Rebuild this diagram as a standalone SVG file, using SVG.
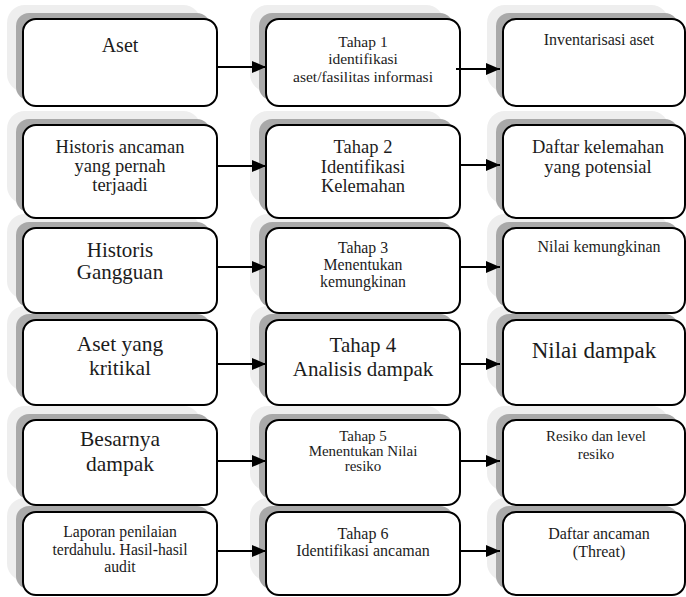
<svg xmlns="http://www.w3.org/2000/svg" width="686" height="597" viewBox="0 0 686 597">
<style>
.halo{fill:#eeeeee}
.shd{fill:#a9a9a9}
.box{fill:#ffffff;stroke:#000000;stroke-width:2}
.t{font-family:"Liberation Serif","Times New Roman",serif;fill:#1c1c1c;text-anchor:middle}
.c{stroke:#000000;stroke-width:2;fill:none;marker-end:url(#ah)}
</style>
<defs>
<marker id="ah" markerUnits="userSpaceOnUse" markerWidth="14" markerHeight="12" refX="14" refY="6" orient="auto">
<path d="M0,0 L14,6 L0,12 Z" fill="#000000"/>
</marker>
</defs>

<!-- Row 6 -->
<g id="laporan">
<rect class="halo" x="7" y="498" width="194" height="83" rx="18"/>
<rect class="shd" x="16" y="506" width="194" height="83" rx="13"/>
<rect class="box" x="23" y="512" width="194" height="83" rx="13"/>
<text class="t" font-size="15.7" x="120" y="537">Laporan penilaian</text>
<text class="t" font-size="15.7" x="120" y="555">terdahulu. Hasil-hasil</text>
<text class="t" font-size="15.7" x="120" y="572">audit</text>
</g>
<g id="tahap6">
<rect class="halo" x="250" y="498" width="194" height="83" rx="18"/>
<rect class="shd" x="259" y="506" width="194" height="83" rx="13"/>
<rect class="box" x="266" y="512" width="194" height="83" rx="13"/>
<text class="t" font-size="16" x="363" y="539">Tahap 6</text>
<text class="t" font-size="16" x="363" y="556">Identifikasi ancaman</text>
</g>
<g id="daftar-ancaman">
<rect class="halo" x="487" y="498" width="182" height="83" rx="18"/>
<rect class="shd" x="496" y="506" width="182" height="83" rx="13"/>
<rect class="box" x="503" y="512" width="182" height="83" rx="13"/>
<text class="t" font-size="16" x="599" y="539">Daftar ancaman</text>
<text class="t" font-size="16" x="599" y="557">(Threat)</text>
</g>

<!-- Row 5 -->
<g id="besarnya">
<rect class="halo" x="7" y="406" width="194" height="85" rx="18"/>
<rect class="shd" x="16" y="414" width="194" height="85" rx="13"/>
<rect class="box" x="23" y="420" width="194" height="85" rx="13"/>
<text class="t" font-size="21.5" x="120" y="446">Besarnya</text>
<text class="t" font-size="21.5" x="120" y="471">dampak</text>
</g>
<g id="tahap5">
<rect class="halo" x="250" y="406" width="194" height="85" rx="18"/>
<rect class="shd" x="259" y="414" width="194" height="85" rx="13"/>
<rect class="box" x="266" y="420" width="194" height="85" rx="13"/>
<text class="t" font-size="15" x="363" y="441">Tahap 5</text>
<text class="t" font-size="15" x="363" y="456">Menentukan Nilai</text>
<text class="t" font-size="15" x="363" y="471">resiko</text>
</g>
<g id="resiko">
<rect class="halo" x="487" y="406" width="182" height="85" rx="18"/>
<rect class="shd" x="496" y="414" width="182" height="85" rx="13"/>
<rect class="box" x="503" y="420" width="182" height="85" rx="13"/>
<text class="t" font-size="15" x="596" y="441">Resiko dan level</text>
<text class="t" font-size="15" x="596" y="459">resiko</text>
</g>

<!-- Row 4 -->
<g id="aset-kritikal">
<rect class="halo" x="7" y="306" width="194" height="85" rx="18"/>
<rect class="shd" x="16" y="314" width="194" height="85" rx="13"/>
<rect class="box" x="23" y="320" width="194" height="85" rx="13"/>
<text class="t" font-size="21.5" x="120" y="351">Aset yang</text>
<text class="t" font-size="21.5" x="120" y="375">kritikal</text>
</g>
<g id="tahap4">
<rect class="halo" x="250" y="306" width="194" height="85" rx="18"/>
<rect class="shd" x="259" y="314" width="194" height="85" rx="13"/>
<rect class="box" x="266" y="320" width="194" height="85" rx="13"/>
<text class="t" font-size="21" x="363" y="352">Tahap 4</text>
<text class="t" font-size="21" x="363" y="376">Analisis dampak</text>
</g>
<g id="nilai-dampak">
<rect class="halo" x="487" y="306" width="182" height="85" rx="18"/>
<rect class="shd" x="496" y="314" width="182" height="85" rx="13"/>
<rect class="box" x="503" y="320" width="182" height="85" rx="13"/>
<text class="t" font-size="23" x="594" y="358">Nilai dampak</text>
</g>

<!-- Row 3 -->
<g id="historis-gangguan">
<rect class="halo" x="7" y="214" width="194" height="85" rx="18"/>
<rect class="shd" x="16" y="222" width="194" height="85" rx="13"/>
<rect class="box" x="23" y="228" width="194" height="85" rx="13"/>
<text class="t" font-size="21" x="120" y="257">Historis</text>
<text class="t" font-size="21" x="120" y="279">Gangguan</text>
</g>
<g id="tahap3">
<rect class="halo" x="250" y="214" width="194" height="85" rx="18"/>
<rect class="shd" x="259" y="222" width="194" height="85" rx="13"/>
<rect class="box" x="266" y="228" width="194" height="85" rx="13"/>
<text class="t" font-size="15.8" x="363" y="253">Tahap 3</text>
<text class="t" font-size="15.8" x="363" y="270">Menentukan</text>
<text class="t" font-size="15.8" x="363" y="287">kemungkinan</text>
</g>
<g id="nilai-kemungkinan">
<rect class="halo" x="487" y="214" width="182" height="85" rx="18"/>
<rect class="shd" x="496" y="222" width="182" height="85" rx="13"/>
<rect class="box" x="503" y="228" width="182" height="85" rx="13"/>
<text class="t" font-size="16" x="599" y="252">Nilai kemungkinan</text>
</g>

<!-- Row 2 -->
<g id="historis-ancaman">
<rect class="halo" x="7" y="111" width="194" height="93" rx="18"/>
<rect class="shd" x="16" y="119" width="194" height="93" rx="13"/>
<rect class="box" x="23" y="125" width="194" height="93" rx="13"/>
<text class="t" font-size="18.5" x="120" y="153">Historis ancaman</text>
<text class="t" font-size="18.5" x="120" y="172">yang pernah</text>
<text class="t" font-size="18.5" x="120" y="191">terjaadi</text>
</g>
<g id="tahap2">
<rect class="halo" x="250" y="111" width="194" height="93" rx="18"/>
<rect class="shd" x="259" y="119" width="194" height="93" rx="13"/>
<rect class="box" x="266" y="125" width="194" height="93" rx="13"/>
<text class="t" font-size="18.5" x="363" y="153">Tahap 2</text>
<text class="t" font-size="18.5" x="363" y="173">Identifikasi</text>
<text class="t" font-size="18.5" x="363" y="192">Kelemahan</text>
</g>
<g id="daftar-kelemahan">
<rect class="halo" x="487" y="111" width="182" height="93" rx="18"/>
<rect class="shd" x="496" y="119" width="182" height="93" rx="13"/>
<rect class="box" x="503" y="125" width="182" height="93" rx="13"/>
<text class="t" font-size="18.5" x="598" y="153">Daftar kelemahan</text>
<text class="t" font-size="18.5" x="598" y="173">yang potensial</text>
</g>

<!-- Row 1 -->
<g id="aset">
<rect class="halo" x="7" y="5" width="194" height="87" rx="18"/>
<rect class="shd" x="16" y="13" width="194" height="87" rx="13"/>
<rect class="box" x="23" y="19" width="194" height="87" rx="13"/>
<text class="t" font-size="20" x="120" y="52">Aset</text>
</g>
<g id="tahap1">
<rect class="halo" x="250" y="5" width="194" height="87" rx="18"/>
<rect class="shd" x="259" y="13" width="194" height="87" rx="13"/>
<rect class="box" x="266" y="19" width="194" height="87" rx="13"/>
<text class="t" font-size="15.5" x="363" y="47">Tahap 1</text>
<text class="t" font-size="15.5" x="363" y="64">identifikasi</text>
<text class="t" font-size="15.5" x="363" y="82">aset/fasilitas informasi</text>
</g>
<g id="inventarisasi">
<rect class="halo" x="487" y="5" width="182" height="87" rx="18"/>
<rect class="shd" x="496" y="13" width="182" height="87" rx="13"/>
<rect class="box" x="503" y="19" width="182" height="87" rx="13"/>
<text class="t" font-size="16" x="599" y="45">Inventarisasi aset</text>
</g>

<g id="connectors">
<line class="c" x1="217" y1="67" x2="266" y2="67"/>
<line class="c" x1="456" y1="69" x2="500" y2="69"/>
<line class="c" x1="217" y1="166" x2="266" y2="166"/>
<line class="c" x1="460" y1="165" x2="500" y2="165"/>
<line class="c" x1="217" y1="267" x2="266" y2="267"/>
<line class="c" x1="460" y1="267" x2="500" y2="267"/>
<line class="c" x1="217" y1="364" x2="266" y2="364"/>
<line class="c" x1="460" y1="364" x2="500" y2="364"/>
<line class="c" x1="217" y1="461" x2="266" y2="461"/>
<line class="c" x1="460" y1="461" x2="500" y2="461"/>
<line class="c" x1="217" y1="551" x2="266" y2="551"/>
<line class="c" x1="460" y1="551" x2="500" y2="551"/>
</g>
</svg>
